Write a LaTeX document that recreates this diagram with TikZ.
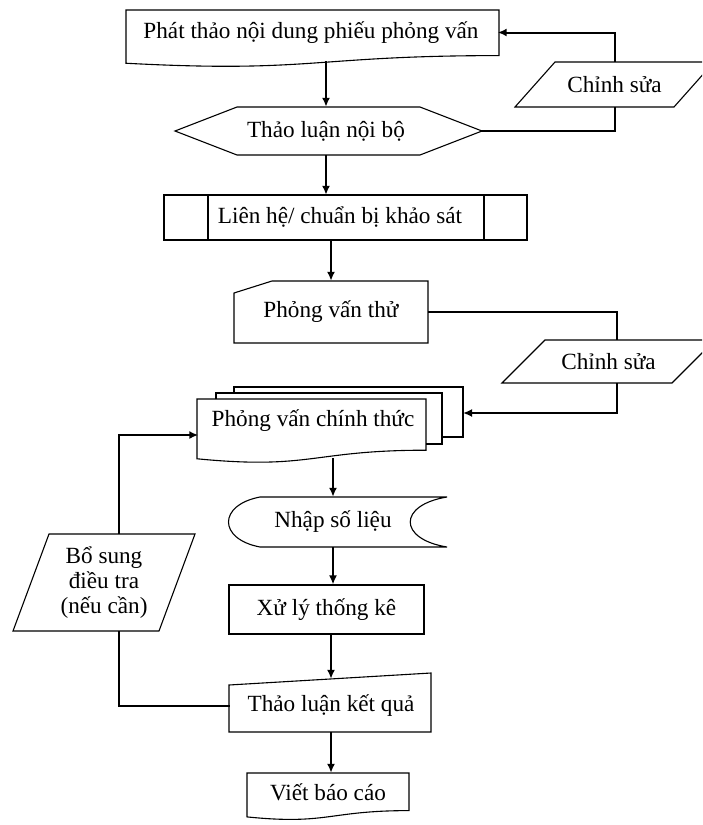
\documentclass[tikz,border=0pt]{standalone}
\usepackage{fontspec}
\setmainfont{Liberation Serif}
\usetikzlibrary{arrows.meta}

% word-style document outline: left, top, width, height
\newcommand\docshape[4]{\draw[outline] (#1,#2) -- ({#1+#3},#2) -- ({#1+#3},{#2+0.8*#4})
  .. controls ({#1+0.5*#3},{#2+0.8*#4}) and ({#1+0.5*#3},{#2+1.108*#4}) .. (#1,{#2+0.934*#4}) -- cycle;}

\tikzset{
  box/.style={inner sep=0pt, align=center, font=\fontsize{23.2}{25}\selectfont},
  outline/.style={line width=1.1pt},
  link/.style={line width=2pt},
  arr/.style={line width=2pt, -{Latex[length=9pt,width=8pt]}}
}

\begin{document}
\begin{tikzpicture}[x=1pt,y=-1pt]
  \useasboundingbox (0,0) rectangle (702,825);
  \clip (0,0) rectangle (702,825);

  % shapes
  \docshape{126}{10}{373}{57}
  \draw[outline] (555,62) -- (714,62) -- (674,107) -- (515,107) -- cycle;
  \draw[outline] (175,131) -- (237,107) -- (420,107) -- (482,131) -- (420,155) -- (237,155) -- cycle;
  \draw[outline] (164,195) rectangle (527,240);
  \draw[outline] (208,195) -- (208,240) (484,195) -- (484,240);
  \draw[outline] (234,293) -- (272,281) -- (428,281) -- (428,343) -- (234,343) -- cycle;
  \draw[outline] (545,340) -- (715,340) -- (672,383) -- (502,383) -- cycle;
  \draw[outline] (234,393) -- (234,387) -- (463,387) -- (463,437) -- (442,437);
  \draw[outline] (216,399) -- (216,393) -- (442,393) -- (442,444) -- (426,444);
  \docshape{197}{399}{229}{64}
  \draw[outline] (260,497) -- (447,497) .. controls (398,505) and (398,539) .. (447,547)
    -- (260,547) .. controls (218,539) and (218,505) .. cycle;
  \draw[outline] (49,534) -- (195,534) -- (159,631) -- (13,631) -- cycle;
  \draw[outline] (229,685) -- (431,673) -- (431,732) -- (229,732) -- cycle;
  \docshape{247}{773}{162}{47}

  % texts
  \node[box, minimum width=373, minimum height=45] (draft) at (311,32.5) {Phát thảo nội dung phiếu phỏng vấn};
  \node[box, minimum width=199, minimum height=45] (edit1) at (614.5,84.5) {Chỉnh sửa};
  \node[box, minimum width=307, minimum height=48] (review) at (326,131) {Thảo luận nội bộ};
  \node[box, minimum width=363, minimum height=45] (contact) at (340,217.5) {Liên hệ/ chuẩn bị khảo sát};
  \node[box, minimum width=194, minimum height=62] (pilot) at (331,312) {Phỏng vấn thử};
  \node[box, minimum width=213, minimum height=43] (edit2) at (608.5,361.5) {Chỉnh sửa};
  \node[box, minimum width=229, minimum height=44] (main) at (313,421) {Phỏng vấn chính thức};
  \coordinate (stackedge) at (463,413);
  \node[box, minimum width=219, minimum height=50] (data) at (333,522) {Nhập số liệu};
  \node[box, draw, outline, minimum width=195, minimum height=49] (stats) at (326.5,609.5) {Xử lý thống kê};
  \node[box, minimum width=202, minimum height=53] (result) at (331,705.5) {Thảo luận kết quả};
  \node[box, minimum width=182, minimum height=97] (extra) at (104,582.5) {Bổ sung\\điều tra\\(nếu cần)};
  \node[box, minimum width=162, minimum height=38] (report) at (328,792) {Viết báo cáo};

  % connectors
  \draw[arr] (draft.south -| review.north) ++(0,6) -- (review.north);
  \draw[link] (review.east) -| (edit1.south);
  \draw[arr] (edit1.north) |- (draft.east);
  \draw[arr] (review.south) -- (review.south |- contact.north);
  \draw[arr] (pilot.north |- contact.south) -- (pilot.north);
  \draw[link] (pilot.east) -| ([xshift=8pt]edit2.north);
  \draw[arr] ([xshift=8pt]edit2.south) |- (stackedge);
  \draw[arr] (main.south -| data.north) ++(0,15) -- (data.north);
  \draw[arr] (data.south) -- (data.south |- stats.north);
  \draw[arr] (result.north |- stats.south) -- (result.north);
  \draw[arr] (result.south) -- (result.south |- report.north);
  \draw[link] (result.west) -| ([xshift=15pt]extra.south);
  \draw[arr] ([xshift=15pt]extra.north) |- ([yshift=-14pt]main.west);
\end{tikzpicture}
\end{document}
